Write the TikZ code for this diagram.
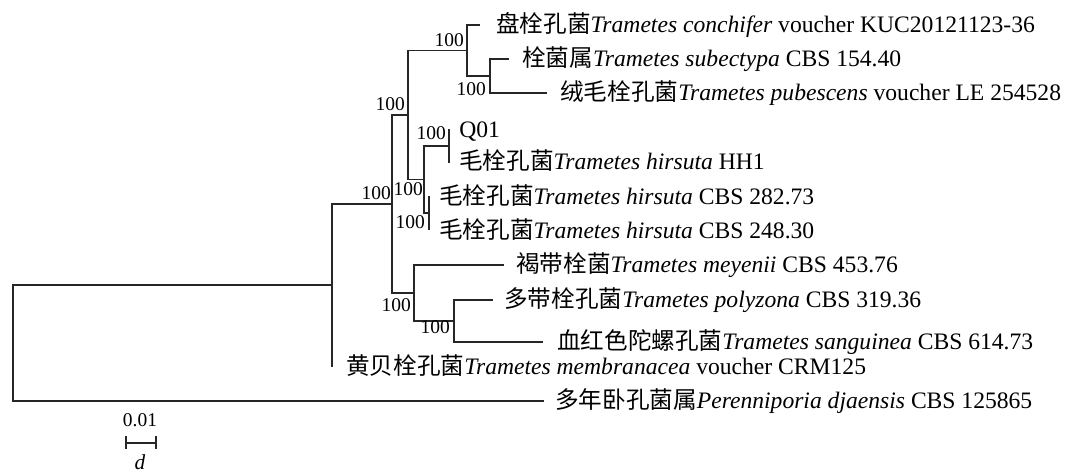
\documentclass[tikz,border=0pt]{standalone}
\usepackage{fontspec}
\setmainfont{Liberation Serif}
\newfontfamily\cjk{Noto Sans CJK SC}
\begin{document}
\begin{tikzpicture}[x=0.75pt,y=-0.75pt,
  br/.style={line width=0.8pt, draw=black!85, line cap=rect},
  leaflab/.style={anchor=base west, inner sep=0pt, font=\fontsize{17.7}{20}\selectfont},
  boot/.style={anchor=east, inner sep=0pt, font=\fontsize{14.6}{16}\selectfont},
]
\useasboundingbox (0,0) rectangle (1070,472);
% internal nodes
\coordinate (nB) at (490,76);
\coordinate (nA) at (467,50.5);
\coordinate (nF) at (449,146);
\coordinate (nG) at (429,213);
\coordinate (nE) at (424,179.5);
\coordinate (nC) at (408,115);
\coordinate (nI) at (454,321);
\coordinate (nH) at (414,293);
\coordinate (nD) at (392,204);
\coordinate (nJ) at (332,285);
\coordinate (nR) at (13,343);
% leaf ends
\coordinate (l1) at (479,25);
\coordinate (l2) at (508,59);
\coordinate (l3) at (546,93);
\coordinate (l4) at (449,130);
\coordinate (l5) at (449,162);
\coordinate (l6) at (429,197);
\coordinate (l7) at (429,229);
\coordinate (l8) at (503,265);
\coordinate (l9) at (492,300);
\coordinate (l10) at (542,342);
\coordinate (l11) at (332,366);
\coordinate (l12) at (543,401);
% branches
\draw[br] (nR) |- (nJ);  \draw[br] (nR) |- (l12);
\draw[br] (nJ) |- (nD);  \draw[br] (nJ) |- (l11);
\draw[br] (nD) |- (nC);  \draw[br] (nD) |- (nH);
\draw[br] (nC) |- (nA);  \draw[br] (nC) |- (nE);
\draw[br] (nA) |- (l1);  \draw[br] (nA) |- (nB);
\draw[br] (nB) |- (l2);  \draw[br] (nB) |- (l3);
\draw[br] (nE) |- (nF);  \draw[br] (nE) |- (nG);
\draw[br] (nF) |- (l4);  \draw[br] (nF) |- (l5);
\draw[br] (nG) |- (l6);  \draw[br] (nG) |- (l7);
\draw[br] (nH) |- (l8);  \draw[br] (nH) |- (nI);
\draw[br] (nI) |- (l9);  \draw[br] (nI) |- (l10);
% leaf labels
\node[leaflab] (t1) at (496,32.5) {{\cjk 盘栓孔菌}\textit{Trametes conchifer} voucher KUC20121123-36};
\node[leaflab] (t2) at (522,66.5) {{\cjk 栓菌属}\textit{Trametes subectypa} CBS 154.40};
\node[leaflab] (t3) at (560,100.5) {{\cjk 绒毛栓孔菌}\textit{Trametes pubescens} voucher LE 254528};
\node[leaflab] (t4) at (459,137.5) {Q01};
\node[leaflab] (t5) at (459,169.5) {{\cjk 毛栓孔菌}\textit{Trametes hirsuta} HH1};
\node[leaflab] (t6) at (439,204.5) {{\cjk 毛栓孔菌}\textit{Trametes hirsuta} CBS 282.73};
\node[leaflab] (t7) at (439,238.5) {{\cjk 毛栓孔菌}\textit{Trametes hirsuta} CBS 248.30};
\node[leaflab] (t8) at (516,272.5) {{\cjk 褐带栓菌}\textit{Trametes meyenii} CBS 453.76};
\node[leaflab] (t9) at (504,307.5) {{\cjk 多带栓孔菌}\textit{Trametes polyzona} CBS 319.36};
\node[leaflab] (t10) at (557,349.5) {{\cjk 血红色陀螺孔菌}\textit{Trametes sanguinea} CBS 614.73};
\node[leaflab] (t11) at (346,374.5) {{\cjk 黄贝栓孔菌}\textit{Trametes membranacea} voucher CRM125};
\node[leaflab] (t12) at (555,408.5) {{\cjk 多年卧孔菌属}\textit{Perenniporia djaensis} CBS 125865};
% bootstrap values
\node[boot] (bA) at (464,40) {100};
\node[boot] (bB) at (486,89) {100};
\node[boot] (bC) at (405,104) {100};
\node[boot] (bD) at (391,193) {100};
\node[boot] (bE) at (423,189) {100};
\node[boot] (bF) at (446,133) {100};
\node[boot] (bG) at (425,222) {100};
\node[boot] (bH) at (411,305) {100};
\node[boot] (bI) at (450,327) {100};
% scale bar
\node[inner sep=0pt, font=\fontsize{14.6}{16}\selectfont] (sl) at (140,420) {0.01};
\coordinate (s1) at (126,443);
\coordinate (s2) at (156,443);
\draw[br] (s1) -- (s2);
\draw[br] ([yshift=4.5pt]s1) -- ([yshift=-4pt]s1);
\draw[br] ([yshift=4.5pt]s2) -- ([yshift=-4pt]s2);
\node[inner sep=0pt, font=\fontsize{16}{18}\selectfont\itshape] (sd) at (140,462) {d};
\end{tikzpicture}
\end{document}
